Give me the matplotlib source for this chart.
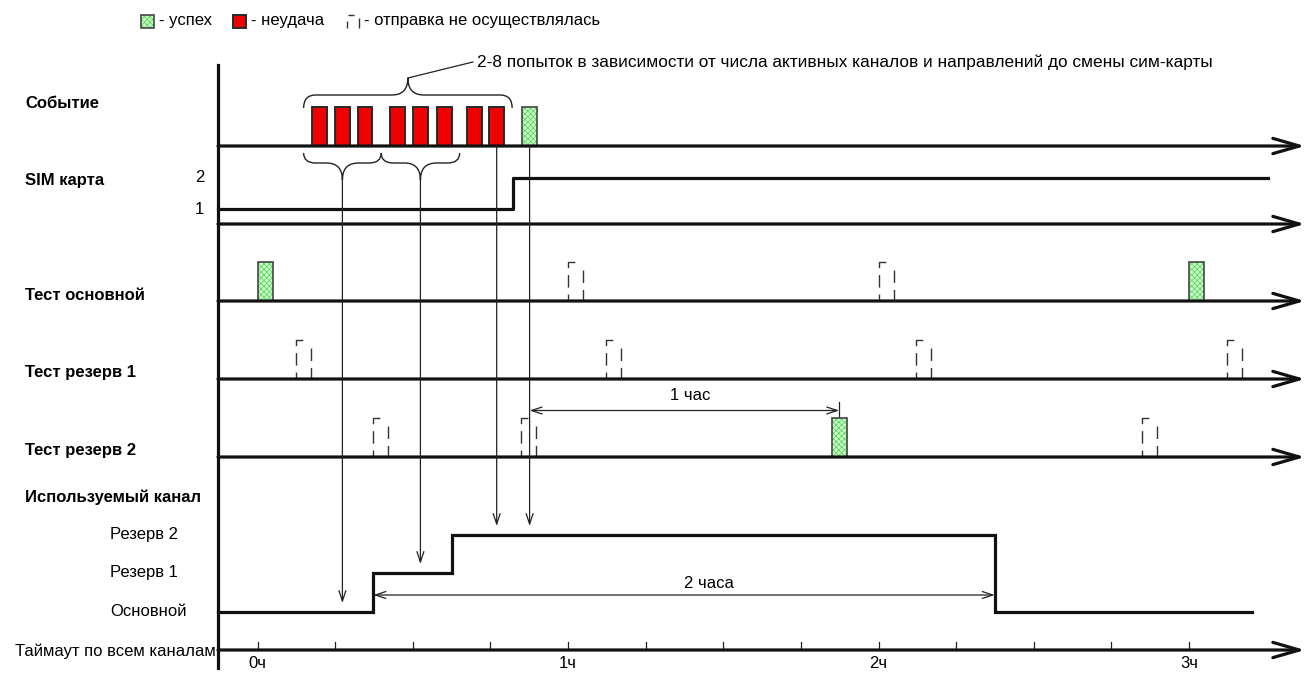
import numpy as np
import matplotlib.pyplot as plt
from matplotlib.patches import Rectangle, PathPatch
from matplotlib.path import Path

plt.rcParams['font.family'] = ['Liberation Sans', 'DejaVu Sans']
plt.rcParams['hatch.linewidth'] = 0.6

# --- data (times in hours) ---
event_fail = [0.174, 0.249, 0.322, 0.426, 0.502, 0.577, 0.674, 0.746]
event_ok = [0.852]
fail_groups = [[0, 1, 2], [3, 4, 5]]
sim_switch = 0.821
sim_end = 3.254
test_main = [(0.0, 'ok'), (1.0, 'skip'), (2.0, 'skip'), (3.0, 'ok')]
test_res1 = [(0.125, 'skip'), (1.123, 'skip'), (2.122, 'skip'), (3.121, 'skip')]
test_res2 = [(0.372, 'skip'), (0.848, 'skip'), (1.849, 'ok'), (2.849, 'skip')]
chan_steps = [0.373, 0.625, 2.374]
chan_levels = ['Основной', 'Резерв 1', 'Резерв 2', 'Основной']
chan_end = 3.204
tick_hours = np.arange(0, 3.01, 0.25)
hour_labels = ['0ч', '1ч', '2ч', '3ч']
bar_w = 0.048

# --- layout (pixels) ---
hour_px = 310.5
zero_px = 257.6
W, H = 1312, 675
axis_t = (218 - zero_px) / hour_px
arrow_t = (1305 - zero_px) / hour_px
px = 1 / hour_px
row_y = {'event': 146, 'sim': 224, 'main': 301, 'res1': 379, 'res2': 457, 'timeout': 650}
sim_y = {1: 209, 2: 178}
chan_y = {'Основной': 612, 'Резерв 1': 573, 'Резерв 2': 535}
box_h = 39
fs = 12

fig = plt.figure(figsize=(W / 100, H / 100), dpi=100)
ax = fig.add_axes([0, 0, 1, 1])
ax.set_xlim(-zero_px / hour_px, (W - zero_px) / hour_px)
ax.set_ylim(H, 0)
ax.axis('off')

ink = '#111111'


def ok_box(t, y, w=bar_w, h=box_h):
    ax.add_patch(Rectangle((t, y - h), w, h, facecolor='#d0f8d0', edgecolor='#58dc58',
                           hatch='xxxxxx', lw=0, zorder=3))
    ax.add_patch(Rectangle((t, y - h), w, h, fill=False, edgecolor='#444444', lw=1.2, zorder=4))


def fail_box(t, y, w=bar_w, h=box_h):
    ax.add_patch(Rectangle((t, y - h), w, h, facecolor='#f00000', edgecolor='#2a2a2a',
                           lw=1.4, zorder=3))


def skip_box(t, y, w=bar_w, h=box_h):
    ax.plot([t, t, t + w * 0.6], [y, y - h, y - h], color='#333333', lw=1.0,
            linestyle=(4, (9, 5)), zorder=3)
    ax.plot([t + w, t + w], [y - h * 0.8, y], color='#333333', lw=1.0,
            linestyle=(0, (9, 5)), zorder=3)


def time_axis(y):
    ax.annotate('', xy=(arrow_t, y), xytext=(axis_t, y),
                arrowprops=dict(arrowstyle='->, head_length=1.9, head_width=0.55',
                                lw=2.3, color=ink, shrinkA=0, shrinkB=0), zorder=5)


def thin_arrow(x0, y0, x1, y1, style='->'):
    ax.annotate('', xy=(x1, y1), xytext=(x0, y0),
                arrowprops=dict(arrowstyle=style + ', head_length=0.75, head_width=0.25',
                                lw=0.9, color='#222222', shrinkA=0, shrinkB=0), zorder=6)


def brace(x0, x1, y_end, y_flat, y_tip):
    xm = (x0 + x1) / 2
    r = 12 * px
    rt = 16 * px
    verts = [(x0, y_end), (x0, y_flat), (x0 + r, y_flat),
             (xm - rt, y_flat), (xm, y_flat), (xm, y_tip),
             (xm, y_flat), (xm + rt, y_flat),
             (x1 - r, y_flat), (x1, y_flat), (x1, y_end)]
    codes = [Path.MOVETO, Path.CURVE3, Path.CURVE3,
             Path.LINETO, Path.CURVE3, Path.CURVE3,
             Path.CURVE3, Path.CURVE3,
             Path.LINETO, Path.CURVE3, Path.CURVE3]
    ax.add_patch(PathPatch(Path(verts, codes), fill=False, edgecolor='#222222', lw=1.0, zorder=4))
    return xm


# vertical axis
ax.plot([axis_t, axis_t], [65, 668], color=ink, lw=2.3, zorder=5)

# event row
for t in event_fail:
    fail_box(t, row_y['event'])
for t in event_ok:
    ok_box(t, row_y['event'])
time_axis(row_y['event'])

pad = 8 * px
tip = brace(event_fail[0] - pad, event_fail[-1] + bar_w + pad, 108, 95, 78)
ax.plot([tip, tip + 65 * px], [78, 62], color='#222222', lw=0.9)
ax.text(tip + 69 * px, 62, '2-8 попыток в зависимости от числа активных каналов и направлений до смены сим-карты',
        fontsize=12.4, va='center', ha='left')

# small braces + arrows to channel
g_edges = [event_fail[fail_groups[0][0]] - pad,
           (event_fail[fail_groups[0][-1]] + bar_w + event_fail[fail_groups[1][0]]) / 2,
           event_fail[fail_groups[1][-1]] + bar_w + pad]
targets = ['Основной', 'Резерв 1']
for i, g in enumerate(fail_groups):
    xm = brace(g_edges[i], g_edges[i + 1], 153, 163, 180)
    thin_arrow(xm, 180, xm, chan_y[targets[i]] - 9)
for t in [event_fail[-1], event_ok[0]]:
    xc = t + bar_w / 2
    thin_arrow(xc, row_y['event'], xc, chan_y['Резерв 2'] - 9)

# SIM card
ax.plot([axis_t, sim_switch, sim_switch, sim_end],
        [sim_y[1], sim_y[1], sim_y[2], sim_y[2]], color=ink, lw=2.3, zorder=5)
time_axis(row_y['sim'])

# tests
for key, tests in [('main', test_main), ('res1', test_res1), ('res2', test_res2)]:
    for t, st in tests:
        if st == 'ok':
            ok_box(t, row_y[key])
        else:
            skip_box(t, row_y[key])
    time_axis(row_y[key])

# 1 hour dimension
t_a = event_ok[0] + bar_w / 2
t_b = [t for t, st in test_res2 if st == 'ok'][0] + bar_w / 2
thin_arrow(t_a, 410.5, t_b, 410.5, '<->')
ax.plot([t_b, t_b], [402, row_y['res2'] - box_h], color='#222222', lw=0.9)
ax.text((t_a + t_b) / 2 + 6 * px, 396, '1 час', fontsize=fs, ha='center', va='center')

# used channel
xs = [axis_t]
ys = [chan_y[chan_levels[0]]]
for t, lev_prev, lev in zip(chan_steps, chan_levels[:-1], chan_levels[1:]):
    xs += [t, t]
    ys += [chan_y[lev_prev], chan_y[lev]]
xs.append(chan_end)
ys.append(chan_y[chan_levels[-1]])
ax.plot(xs, ys, color=ink, lw=2.3, zorder=5, solid_joinstyle='miter')

thin_arrow(chan_steps[-1], 595, chan_steps[0], 595, '<->')
ax.text((chan_steps[0] + chan_steps[-1]) / 2 + 25 * px, 583, '2 часа', fontsize=fs,
        ha='center', va='center')

# timeout axis with ticks
time_axis(row_y['timeout'])
for h in tick_hours:
    ax.plot([h, h], [row_y['timeout'] - 8, row_y['timeout']], color='#222222', lw=0.9)
for i, lab in enumerate(hour_labels):
    ax.text(i, 664, lab, fontsize=fs, ha='center', va='center')

# row labels
lx = (25 - zero_px) / hour_px
bold_labels = [('Событие', 103), ('SIM карта', 180), ('Тест основной', 296),
               ('Тест резерв 1', 373), ('Тест резерв 2', 450), ('Используемый канал', 497)]
for s, y in bold_labels:
    ax.text(lx, y, s, fontsize=fs, fontweight='bold', ha='left', va='center')
for lev in ['Резерв 2', 'Резерв 1', 'Основной']:
    ax.text((110 - zero_px) / hour_px, chan_y[lev], lev, fontsize=fs, ha='left', va='center')
ax.text(axis_t - 2 * px, 651, 'Таймаут по всем каналам', fontsize=fs, ha='right', va='center')
for k in [2, 1]:
    ax.text(axis_t - 14 * px, sim_y[k], str(k), fontsize=fs, ha='right', va='center')

# legend
ly = 21
lg = lambda p: (p - zero_px) / hour_px
ok_box(lg(141), ly + 7, w=13 * px, h=13)
ax.text(lg(159), ly, '- успех', fontsize=fs, va='center')
fail_box(lg(233), ly + 7, w=13 * px, h=13)
ax.text(lg(251), ly, '- неудача', fontsize=fs, va='center')
skip_box(lg(347), ly + 7, w=12 * px, h=13)
ax.text(lg(364), ly, '- отправка не осуществлялась', fontsize=fs, va='center')

fig.savefig('out.png', dpi=100)
